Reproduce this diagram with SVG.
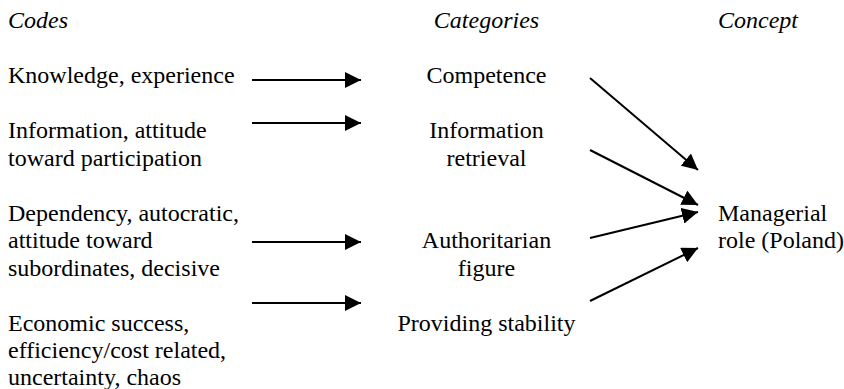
<svg xmlns="http://www.w3.org/2000/svg" width="844" height="389" viewBox="0 0 844 389">
  <style>
    .lbl { font-family: 'Liberation Serif', 'Times New Roman', serif; font-size: 24px; fill: #000; }
    .head { font-style: italic; }
    .mid { text-anchor: middle; }
    .conn line { stroke: #000; stroke-width: 2; fill: none; }
  </style>
  <defs>
    <marker id="arrow" viewBox="0 0 16 16" refX="16" refY="8" markerWidth="16" markerHeight="16" markerUnits="userSpaceOnUse" orient="auto">
      <path d="M0,0 L16,8 L0,16 Z" fill="#000"/>
    </marker>
  </defs>
  <rect width="844" height="389" fill="#fff"/>

  <g class="lbl">
    <!-- column headings -->
    <g id="headings">
      <text class="head" x="8" y="28">Codes</text>
      <text class="head mid" x="486.5" y="28">Categories</text>
      <text class="head" x="718" y="28">Concept</text>
    </g>

    <!-- codes -->
    <g id="code-knowledge">
      <text x="8" y="83">Knowledge, experience</text>
    </g>
    <g id="code-information">
      <text x="8" y="138">Information, attitude</text>
      <text x="8" y="165.6">toward participation</text>
    </g>
    <g id="code-dependency">
      <text x="8" y="220.8">Dependency, autocratic,</text>
      <text x="8" y="248.4">attitude toward</text>
      <text x="8" y="276">subordinates, decisive</text>
    </g>
    <g id="code-economic">
      <text x="8" y="330.5">Economic success,</text>
      <text x="8" y="358">efficiency/cost related,</text>
      <text x="8" y="385">uncertainty, chaos</text>
    </g>

    <!-- categories -->
    <g id="cat-competence">
      <text class="mid" x="486.5" y="83">Competence</text>
    </g>
    <g id="cat-retrieval">
      <text class="mid" x="486.5" y="138">Information</text>
      <text class="mid" x="486.5" y="165.6">retrieval</text>
    </g>
    <g id="cat-authoritarian">
      <text class="mid" x="486.5" y="248.4">Authoritarian</text>
      <text class="mid" x="486.5" y="276">figure</text>
    </g>
    <g id="cat-stability">
      <text class="mid" x="486.5" y="331">Providing stability</text>
    </g>

    <!-- concept -->
    <g id="concept-managerial">
      <text x="718" y="220.8">Managerial</text>
      <text x="718" y="248.4">role (Poland)</text>
    </g>
  </g>

  <!-- connectors -->
  <g id="connectors" class="conn">
    <line x1="252" y1="80" x2="361" y2="80" marker-end="url(#arrow)"/>
    <line x1="252" y1="123" x2="361" y2="123" marker-end="url(#arrow)"/>
    <line x1="252" y1="242" x2="361" y2="242" marker-end="url(#arrow)"/>
    <line x1="252" y1="303" x2="361" y2="303" marker-end="url(#arrow)"/>
    <line x1="590" y1="78" x2="698" y2="170" marker-end="url(#arrow)"/>
    <line x1="590" y1="150" x2="698" y2="205" marker-end="url(#arrow)"/>
    <line x1="590" y1="238" x2="698" y2="212" marker-end="url(#arrow)"/>
    <line x1="590" y1="301" x2="698" y2="248" marker-end="url(#arrow)"/>
  </g>
</svg>
